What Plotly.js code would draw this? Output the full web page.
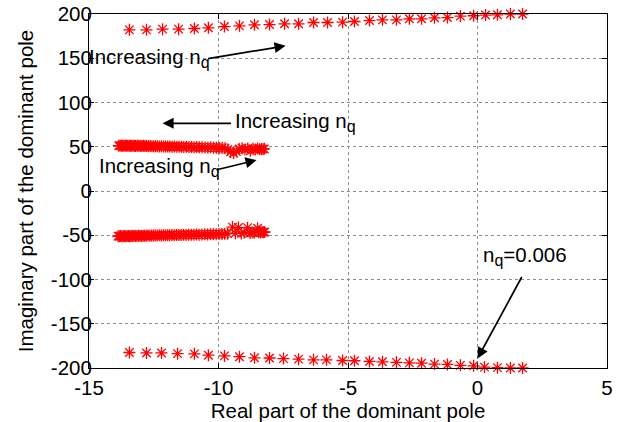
<!DOCTYPE html>
<html>
<head>
<meta charset="utf-8">
<script src="https://cdn.plot.ly/plotly-3.0.1.min.js"></script>
<style>html,body{margin:0;padding:0;background:#fff;}#chart{width:624px;height:422px;}</style>
</head>
<body>
<div id="chart"></div>
<script>
// Upper branch (positive imaginary part, ~200)
var topX = [-13.44,-12.78,-12.16,-11.54,-10.93,-10.39,-9.77,-9.19,-8.61,-8.03,-7.45,-6.91,-6.33,-5.79,
            -5.21,-4.75,-4.17,-3.67,-3.13,-2.63,-2.16,-1.66,-1.16,-0.66,-0.15,0.31,0.77,1.27,1.74];
var topY = [182.1,182.1,182.9,182.9,183.6,184.4,185.8,186.6,187.8,188.1,188.9,188.9,190.4,190.4,
            190.8,191.5,192.6,193.4,193.4,194.6,194.6,195.7,196.0,197.6,198.0,198.8,199.1,200.0,200.0];
// Lower branch (negative imaginary part, ~-200)
var botX = [-13.44,-12.78,-12.20,-11.58,-10.93,-10.39,-9.77,-9.19,-8.61,-8.03,-7.49,-6.91,-6.33,-5.83,
            -5.21,-4.75,-4.17,-3.67,-3.13,-2.63,-2.16,-1.66,-1.16,-0.66,-0.15,0.27,0.77,1.27,1.74];
var botY = [-182.5,-183.0,-183.0,-183.8,-184.0,-185.5,-186.3,-187.2,-188.5,-188.7,-189.4,-190.0,-190.8,-190.8,
            -191.5,-191.8,-192.6,-193.0,-193.6,-194.2,-194.6,-195.6,-196.0,-197.0,-197.5,-199.0,-199.6,-200.0,-200.0];
// Middle cluster, positive (~50)
var midUpX = [-13.85,-13.80,-13.75,-13.70,-13.65,-13.60,-13.55,-13.50,-13.45,-13.40,
              -13.35,-13.30,-13.25,-13.20,-13.14,-13.08,-13.02,-12.96,-12.90,-12.84,
              -12.78,-12.71,-12.64,-12.57,-12.50,-12.43,-12.36,-12.28,-12.20,-12.12,
              -12.04,-11.96,-11.88,-11.79,-11.70,-11.61,-11.52,-11.43,-11.34,-11.24,
              -11.14,-11.04,-10.94,-10.84,-10.74,-10.63,-10.52,-10.41,-10.30,-10.19,
              -10.08,-9.97,-9.86,-9.75,-9.64,-9.53,-9.42,-9.31,-9.20,-9.09,
              -8.98,-8.87,-8.77,-8.67,-8.58,-8.49,-8.41,-8.34,-8.28,-8.23];
var midUpY = [51.2,51.3,51.1,51.2,51.2,51.1,51.3,51.2,51.0,51.1,
              51.2,51.0,51.1,50.9,51.0,51.1,50.9,50.8,51.0,50.9,
              50.8,50.7,50.9,50.6,50.7,50.5,50.6,50.4,50.5,50.3,
              50.4,50.2,50.3,50.1,50.2,50.0,49.9,50.1,49.8,49.9,
              49.7,49.8,49.5,49.6,49.3,49.4,49.2,49.0,49.3,48.8,
              49.0,48.6,48.9,48.2,47.0,44.2,43.0,44.5,47.4,48.3,
              46.8,48.1,45.6,47.7,46.9,47.9,47.2,47.5,47.3,47.6];
// Middle cluster, negative (~-50)
var midLoX = [-13.88,-13.83,-13.78,-13.73,-13.68,-13.63,-13.58,-13.53,-13.48,-13.43,
              -13.38,-13.33,-13.27,-13.21,-13.15,-13.09,-13.03,-12.97,-12.91,-12.85,
              -12.79,-12.72,-12.65,-12.58,-12.51,-12.44,-12.37,-12.29,-12.21,-12.13,
              -12.05,-11.97,-11.89,-11.80,-11.71,-11.62,-11.53,-11.44,-11.35,-11.25,
              -11.15,-11.05,-10.95,-10.85,-10.75,-10.64,-10.53,-10.42,-10.31,-10.20,
              -10.09,-9.98,-9.87,-9.76,-9.65,-9.46,-9.35,-9.23,-9.12,-9.01,
              -8.88,-8.78,-8.70,-8.62,-8.49,-8.45,-8.38,-8.32,-8.27,-8.22];
var midLoY = [-51.0,-51.1,-50.9,-51.0,-51.1,-50.9,-51.0,-50.8,-50.9,-51.0,
              -50.8,-50.9,-50.7,-50.8,-50.9,-50.6,-50.7,-50.8,-50.5,-50.6,
              -50.5,-50.4,-50.6,-50.3,-50.4,-50.2,-50.3,-50.1,-50.2,-50.0,
              -50.1,-49.9,-50.0,-49.8,-49.9,-49.7,-49.6,-49.8,-49.5,-49.6,
              -49.4,-49.5,-49.3,-49.2,-49.4,-49.1,-49.0,-49.2,-48.9,-48.8,
              -48.9,-48.6,-48.7,-48.4,-48.2,-40.8,-47.6,-41.3,-47.9,-47.2,
              -41.4,-47.4,-46.9,-47.1,-42.0,-46.6,-46.8,-46.4,-46.6,-46.3];

var xTickVals = [-15,-10,-5,0,5];
var xTickText = ['-15','-10','-5','0','5'];
var yTickVals = [-200,-150,-100,-50,0,50,100,150,200];
var yTickText = ['-200','-150','-100','-50','0','50','100','150','200'];

var FONT = 'Arial, "Liberation Sans", sans-serif';
var FS = 20.5;
function starTrace(x, y) {
  return {x: x, y: y, type: 'scatter', mode: 'markers', cliponaxis: false,
    marker: {symbol: 'asterisk-open', size: 10, color: '#ff0000', line: {width: 1.3, color: '#ff0000'}},
    hoverinfo: 'skip'};
}
var data = [starTrace(topX, topY), starTrace(botX, botY), starTrace(midUpX, midUpY), starTrace(midLoX, midLoY)];

function arrow(hx, hy, tx, ty) {
  return {x: hx, y: hy, ax: tx, ay: ty, xref: 'x', yref: 'y', axref: 'x', ayref: 'y',
    text: '', showarrow: true, arrowhead: 2, arrowsize: 1.3, arrowwidth: 1.7, arrowcolor: '#000', standoff: 0, startstandoff: 0};
}
var SUBQ = '<sub><span style="font-size:16px">q</span></sub>';
function label(x, y, t, dx) {
  return {x: x, y: y, xref: 'x', yref: 'y', text: t, showarrow: false, xanchor: 'left', yanchor: 'middle',
    xshift: dx || 0, font: {family: FONT, size: FS, color: '#000'}};
}

var axisCommon = {
  showgrid: true, gridcolor: '#8c8c8c', griddash: 'dot', gridwidth: 1,
  zeroline: false, showline: true, linecolor: '#000', linewidth: 1, mirror: 'ticks',
  ticks: 'inside', ticklen: 5, tickcolor: '#000', tickwidth: 1,
  tickfont: {family: FONT, size: FS, color: '#000'}, fixedrange: true
};

var layout = {
  width: 624, height: 422,
  margin: {l: 89, r: 17, t: 14, b: 54},
  paper_bgcolor: '#fff', plot_bgcolor: '#fff',
  showlegend: false,
  font: {family: FONT, size: FS, color: '#000'},
  xaxis: Object.assign({}, axisCommon, {range: [-15, 5], tickmode: 'array', tickvals: xTickVals, ticktext: xTickText,
    ticklabelstandoff: 1,
    title: {text: 'Real part of the dominant pole', font: {family: FONT, size: FS, color: '#000'}, standoff: 10}}),
  yaxis: Object.assign({}, axisCommon, {range: [-200, 200], tickmode: 'array', tickvals: yTickVals, ticktext: yTickText,
    ticklabelstandoff: -8,
    title: {text: 'Imaginary part of the dominant pole', font: {family: FONT, size: FS, color: '#000'}, standoff: 11}}),
  annotations: [
    arrow(-7.41, 164.0, -10.46, 149.3),
    label(-14.95, 150.5, 'Increasing n' + SUBQ, -3),
    arrow(-12.16, 76.5, -9.46, 76.5),
    label(-9.45, 78.0, 'Increasing n' + SUBQ),
    arrow(-8.53, 34.9, -10.12, 23.6),
    label(-14.7, 27.0, 'Increasing n' + SUBQ),
    arrow(0, -189.3, 1.74, -95.5),
    label(0.12, -73.5, 'n' + SUBQ + '=0.006')
  ]
};

Plotly.newPlot('chart', data, layout, {staticPlot: true, displayModeBar: false});
</script>
</body>
</html>
